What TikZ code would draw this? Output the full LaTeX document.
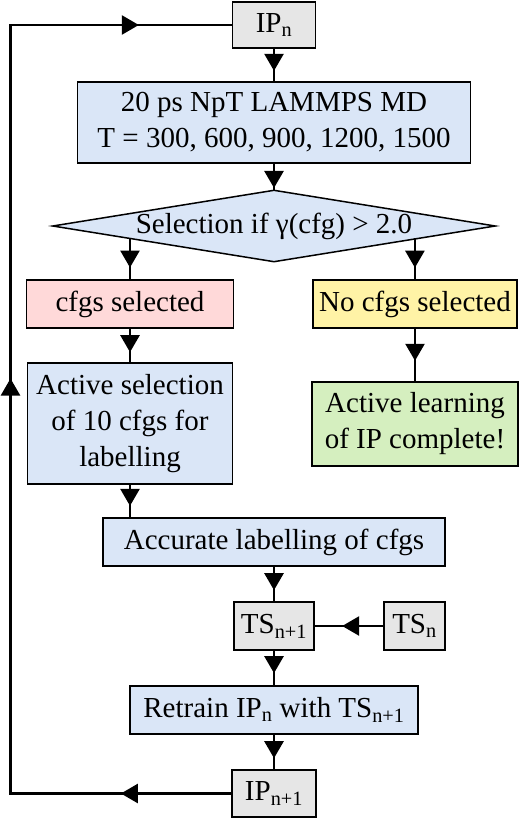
\documentclass[tikz,border=0pt]{standalone}
\usepackage{fontspec}
\setmainfont{Liberation Serif}
\usetikzlibrary{positioning, arrows.meta, shapes, calc, decorations.markings}

\definecolor{boxgray}{HTML}{E6E6E6}
\definecolor{boxblue}{HTML}{DAE6F7}
\definecolor{boxpink}{HTML}{FFD9D9}
\definecolor{boxyellow}{HTML}{FFF3A6}
\definecolor{boxgreen}{HTML}{D5EFBF}

\begin{document}
\begin{tikzpicture}[x=1pt, y=-1pt,
        box/.style={draw, line width=1.5pt, inner sep=0pt, align=center, font=\fontsize{29}{36}\selectfont},
        flow/.style={line width=2.5pt, line cap=rect, postaction={decorate},
            decoration={markings, mark=at position #1 with {\arrow{Triangle[length=17pt, width=19pt]}}}},
        flow/.default=0.68]
        \useasboundingbox (0,0) rectangle (520,819);
        % main column
        \node[box, fill=boxgray, minimum width=83pt, minimum height=46pt] (ipn) at (274,25) {IP\textsubscript{n}};
        \node[box, fill=boxblue, minimum width=393pt, minimum height=81pt] (md) at (274,122.5) {20 ps NpT LAMMPS MD\\T = 300, 600, 900, 1200, 1500};
        \node[box, diamond, aspect=6.15, fill=boxblue, minimum width=443pt, minimum height=72pt] (sel) at (274,226) {Selection if γ(cfg) > 2.0};
        \node[box, fill=boxpink, minimum width=207pt, minimum height=48pt] (cfgsel) at (130,304) {cfgs selected};
        \node[box, fill=boxyellow, minimum width=204pt, minimum height=48pt] (nosel) at (415,304) {No cfgs selected};
        \node[box, fill=boxblue, minimum width=205pt, minimum height=121pt] (actsel) at (130,423.5) {Active selection\\of 10 cfgs for\\labelling};
        \node[box, fill=boxgreen, minimum width=206pt, minimum height=84pt] (actlearn) at (415,424) {Active learning\\of IP complete!};
        \node[box, fill=boxblue, minimum width=342pt, minimum height=48pt] (label) at (274,542) {Accurate labelling of cfgs};
        \node[box, fill=boxgray, minimum width=80pt, minimum height=48pt] (tsnext) at (274,626) {TS\textsubscript{n+1}};
        \node[box, fill=boxgray, minimum width=61pt, minimum height=48pt] (tsn) at (414.5,626) {TS\textsubscript{n}};
        \node[box, fill=boxblue, minimum width=288pt, minimum height=48pt] (retrain) at (274,710) {Retrain IP\textsubscript{n} with TS\textsubscript{n+1}};
        \node[box, fill=boxgray, minimum width=84pt, minimum height=47pt] (ipnext) at (274,793.5) {IP\textsubscript{n+1}};
        % branch points on the diamond and loop corners
        \coordinate (sl) at ($(sel.west)!0.352!(sel.south)$);
        \coordinate (sr) at ($(sel.east)!0.366!(sel.south)$);
        \coordinate (lb) at (10.5,793.5);
        \coordinate (lt) at (10.5,25);
        % connectors
        \draw[flow] (ipn.south) -- (md.north);
        \draw[flow=0.95] (md.south) -- (sel.north);
        \draw[flow=0.71] (sl) -- (sl |- cfgsel.north);
        \draw[flow=0.71] (sr) -- (sr |- nosel.north);
        \draw[flow=0.7] (cfgsel.south) -- (actsel.north);
        \draw[flow=0.61] (nosel.south) -- (actlearn.north);
        \draw[flow=0.65] (actsel.south) -- (actsel.south |- label.north);
        \draw[flow] (label.south) -- (tsnext.north);
        \draw[flow=0.6] (tsn.west) -- (tsnext.east);
        \draw[flow=0.65] (tsnext.south) -- (retrain.north);
        \draw[flow] (retrain.south) -- (ipnext.north);
        % feedback loop
        \draw[flow=0.5] (ipnext.west) -- (lb);
        \draw[flow=0.54] (lb) -- (lt);
        \draw[flow=0.58] (lt) -- (ipn.west);
    \end{tikzpicture}
\end{document}
